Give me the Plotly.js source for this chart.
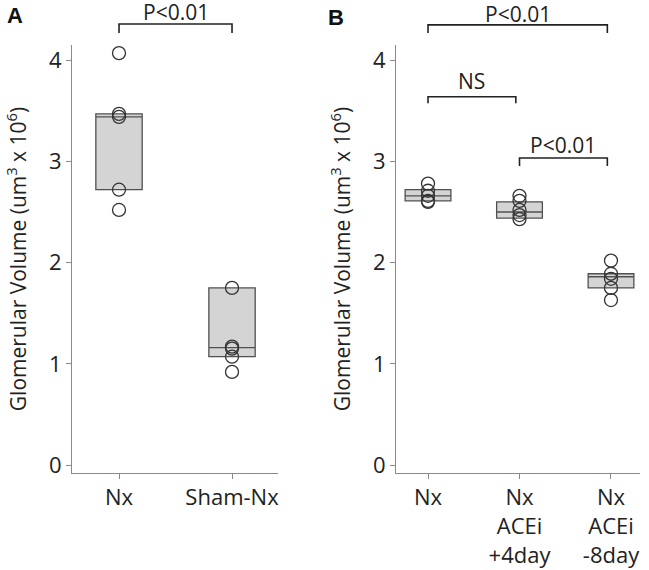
<!DOCTYPE html>
<html><head><meta charset="utf-8">
<script src="https://cdn.plot.ly/plotly-3.0.1.min.js"></script>
<style>html,body{margin:0;padding:0;background:#fff}</style>
</head><body>
<div id="chart" style="width:649px;height:570px"></div>
<script>
// Panel A
const catsA = ['Nx', 'Sham-Nx'];
const ptsA_Nx = [4.07, 3.47, 3.44, 2.72, 2.52];
const ptsA_Sham = [1.75, 1.17, 1.15, 1.07, 0.92];
const q1A = [2.72, 1.07];
const medA = [3.44, 1.16];
const q3A = [3.47, 1.75];

// Panel B
const catsB = ['Nx', 'Nx<br>ACEi<br>+4day', 'Nx<br>ACEi<br>-8day'];
const ptsB_Nx = [2.78, 2.71, 2.66, 2.61, 2.60];
const ptsB_4 = [2.66, 2.61, 2.52, 2.47, 2.43];
const ptsB_8 = [2.02, 1.89, 1.84, 1.75, 1.63];
const q1B = [2.61, 2.44, 1.75];
const medB = [2.66, 2.50, 1.86];
const q3B = [2.72, 2.60, 1.89];

const yTicks = [0, 1, 2, 3, 4];
const yTitle = 'Glomerular Volume (um<sup>3</sup> x 10<sup>6</sup>)';

const FONT = 'Open Sans, Noto Sans, sans-serif';
const TXT = '#222';
const AX = '#8a8a8a';

function flatX(groups) { const o = []; groups.forEach((g, i) => g.forEach(() => o.push(i))); return o; }
function flatY(groups) { return [].concat(...groups); }

const groupsA = [ptsA_Nx, ptsA_Sham];
const groupsB = [ptsB_Nx, ptsB_4, ptsB_8];

const boxStyle = { fillcolor: '#d4d4d4', line: { color: '#505050', width: 1.3 }, whiskerwidth: 0, boxpoints: false, hoverinfo: 'skip', showlegend: false };
const ptStyle = { type: 'scatter', mode: 'markers', marker: { symbol: 'circle-open', size: 13, color: '#333', line: { width: 1.3 } }, hoverinfo: 'skip', showlegend: false, cliponaxis: false };

const traces = [
  Object.assign({ type: 'box', x: [0, 1], q1: q1A, median: medA, q3: q3A, lowerfence: q1A, upperfence: q3A, width: 0.41, xaxis: 'x', yaxis: 'y' }, boxStyle),
  Object.assign({ x: flatX(groupsA), y: flatY(groupsA), xaxis: 'x', yaxis: 'y' }, ptStyle),
  Object.assign({ type: 'box', x: [0, 1, 2], q1: q1B, median: medB, q3: q3B, lowerfence: q1B, upperfence: q3B, width: 0.5, xaxis: 'x2', yaxis: 'y2' }, boxStyle),
  Object.assign({ x: flatX(groupsB), y: flatY(groupsB), xaxis: 'x2', yaxis: 'y2' }, ptStyle)
];

const xCommon = { showline: true, linecolor: AX, linewidth: 1, ticks: 'outside', ticklen: 5, tickcolor: AX, showgrid: false, zeroline: false, tickfont: { size: 22, color: TXT, family: FONT }, fixedrange: true };
const yCommon = { range: [-0.079, 4.15], tickvals: yTicks, ticktext: yTicks.map(String), showline: true, linecolor: AX, linewidth: 1, ticks: 'outside', ticklen: 5, tickcolor: AX, showgrid: false, zeroline: false, tickfont: { size: 22, color: TXT, family: FONT }, title: { text: yTitle, font: { size: 21, color: TXT, family: FONT }, standoff: 16 } };

function bracket(xref, x0, x1, yTop, yEnd) {
  return { type: 'path', xref: xref, yref: 'paper', path: `M ${x0} ${yEnd} L ${x0} ${yTop} L ${x1} ${yTop} L ${x1} ${yEnd}`, line: { color: '#222', width: 1.6 } };
}
function label(xref, x, y, text) {
  return { xref: xref, yref: 'paper', x: x, y: y, text: text, showarrow: false, xanchor: 'center', yanchor: 'middle', font: { size: 21, color: TXT, family: FONT } };
}

const layout = {
  width: 649, height: 570,
  margin: { l: 72, r: 9, t: 45, b: 97 },
  paper_bgcolor: '#fff', plot_bgcolor: '#fff',
  font: { family: FONT, color: TXT },
  showlegend: false,
  xaxis: Object.assign({ domain: [0, 0.3627], range: [-0.416, 1.407], anchor: 'y', tickvals: [0, 1], ticktext: catsA }, xCommon),
  yaxis: Object.assign({ anchor: 'x' }, yCommon),
  xaxis2: Object.assign({ domain: [0.5704, 1], range: [-0.35, 2.317], anchor: 'y2', tickvals: [0, 1, 2], ticktext: catsB }, xCommon),
  yaxis2: Object.assign({ anchor: 'x2' }, yCommon),
  shapes: [
    bracket('x', 0, 1, 1.049, 1.028),
    bracket('x2', 0, 1.96, 1.047, 1.028),
    bracket('x2', 0, 0.96, 0.879, 0.864),
    bracket('x2', 1.0, 1.96, 0.736, 0.717)
  ],
  annotations: [
    label('x', 0.5, 1.078, 'P<0.01'),
    label('x2', 0.98, 1.072, 'P<0.01'),
    label('x2', 0.48, 0.916, 'NS'),
    label('x2', 1.48, 0.766, 'P<0.01'),
    { xref: 'paper', yref: 'paper', x: -0.1, y: 1.07, xanchor: 'center', yanchor: 'middle', text: '<b>A</b>', showarrow: false, font: { size: 22, color: '#111', family: 'Liberation Sans, Arial, sans-serif' } },
    { xref: 'paper', yref: 'paper', x: 0.4648, y: 1.065, xanchor: 'center', yanchor: 'middle', text: '<b>B</b>', showarrow: false, font: { size: 22, color: '#111', family: 'Liberation Sans, Arial, sans-serif' } }
  ]
};

Plotly.newPlot('chart', traces, layout, { displayModeBar: false, staticPlot: true });
</script>
</body></html>
